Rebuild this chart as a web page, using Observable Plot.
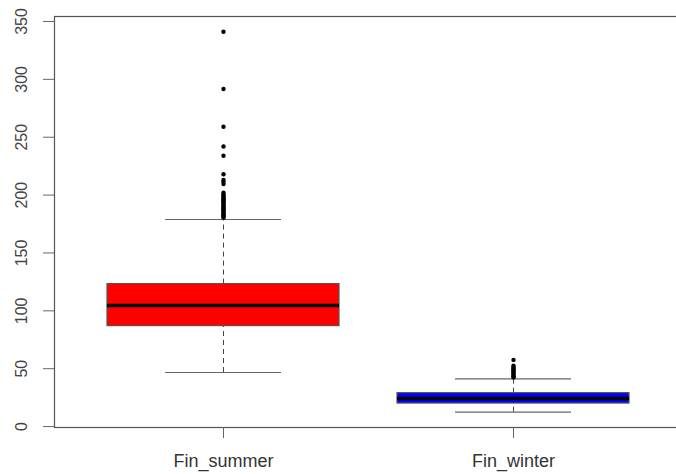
<!DOCTYPE html>
<html>
<head>
<meta charset="utf-8">
<script src="https://cdn.jsdelivr.net/npm/d3@7"></script>
<script src="https://cdn.jsdelivr.net/npm/@observablehq/plot@0.6"></script>
<style>
  html, body { margin: 0; padding: 0; background: #fff; overflow: hidden; }
  #chart { width: 676px; height: 474px; overflow: hidden; }
</style>
</head>
<body>
<div id="chart"></div>
<script>
// ---- data ----
const categories   = ["Fin_summer", "Fin_winter"];
const lowerWhisker = [46.7, 12.4];
const q1           = [86.8, 19.9];
const median       = [104.5, 24.2];
const q3           = [123.1, 28.9];
const upperWhisker = [178.9, 41.2];
const boxColors    = ["#ff0000", "#0000ff"];

const summerOutliers = [180.5, 181.5, 182.5, 183.5, 184.5, 185.5, 186.5, 187.5, 188.5, 189.5,
  190.5, 191.5, 192.5, 193.5, 194.5, 195.5, 196.5, 197.5, 198.5, 199.5, 200.5, 202,
  209.5, 211.5, 213, 218, 234, 242, 259, 291.6, 341.1];
const winterOutliers = [42.5, 43.5, 44.5, 45.5, 46.5, 47.5, 48.5, 49.5, 50.5, 51.5, 52.5, 57.6];

const yTicks = [0, 50, 100, 150, 200, 250, 300, 350];
const yDomain = [-0.8, 354.3];

// ---- derived tables ----
const boxes = categories.map((c, i) => ({
  cat: c, lo: lowerWhisker[i], q1: q1[i], med: median[i], q3: q3[i], hi: upperWhisker[i]
}));
const outliers = [
  ...summerOutliers.map(v => ({cat: categories[0], v})),
  ...winterOutliers.map(v => ({cat: categories[1], v}))
];

const font = "'Liberation Sans', Arial, sans-serif";

const chart = Plot.plot({
  width: 676,
  height: 474,
  marginLeft: 54,
  marginRight: -5,
  marginTop: 16,
  marginBottom: 47,
  style: { fontFamily: font, background: "#fff" },
  x: { type: "band", domain: categories, paddingInner: 0.2, paddingOuter: 0.18, label: null },
  y: { domain: yDomain, label: null },
  color: { domain: categories, range: boxColors },
  marks: [
    // whiskers (dashed)
    Plot.ruleX(boxes, { x: "cat", y1: "q3", y2: "hi", stroke: "#444", strokeDasharray: "5,4", strokeWidth: 1 }),
    Plot.ruleX(boxes, { x: "cat", y1: "lo", y2: "q1", stroke: "#444", strokeDasharray: "5,4", strokeWidth: 1 }),
    // caps
    Plot.tickY(boxes, { x: "cat", y: "hi", stroke: "#666", strokeWidth: 1.2, insetLeft: 58, insetRight: 58 }),
    Plot.tickY(boxes, { x: "cat", y: "lo", stroke: "#666", strokeWidth: 1.2, insetLeft: 58, insetRight: 58 }),
    // boxes
    Plot.barY(boxes, { x: "cat", y1: "q1", y2: "q3", fill: "cat", stroke: "#555", strokeWidth: 1.2 }),
    // medians
    Plot.tickY(boxes, { x: "cat", y: "med", stroke: "#000", strokeWidth: 3.5 }),
    // outliers
    Plot.dot(outliers, { x: "cat", y: "v", r: 2.2, fill: "#000", stroke: "none" }),
    // frame (right edge falls outside the picture)
    Plot.frame({ stroke: "#555", strokeWidth: 1.2 }),
    // axes
    Plot.axisX({ tickSize: 11, tickPadding: 16, fontSize: 18, stroke: "#666", fill: "#333", label: null }),
    Plot.axisY({ ticks: yTicks, tickSize: 11, tickFormat: () => "", stroke: "#666", label: null }),
    Plot.text(yTicks, { y: d => d, text: d => String(d), frameAnchor: "left", dx: -33,
      rotate: -90, textAnchor: "middle", lineAnchor: "middle", fontSize: 16, fill: "#444" })
  ]
});
document.getElementById("chart").appendChild(chart);
</script>
</body>
</html>
